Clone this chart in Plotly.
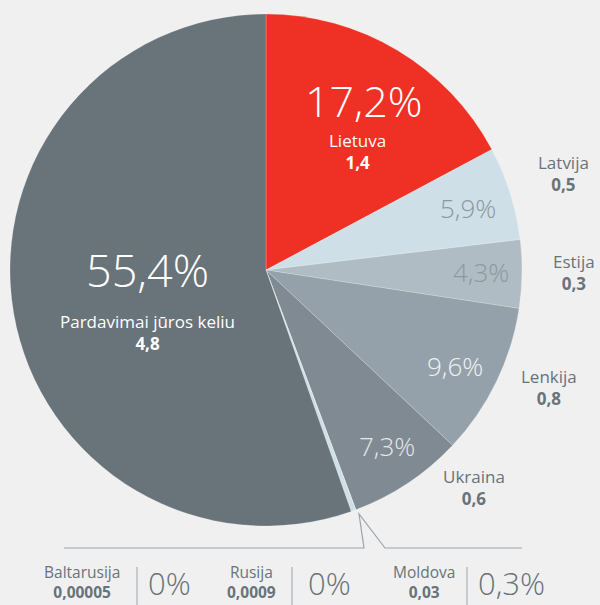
import plotly.graph_objects as go

# ---- data ----
labels = ["Lietuva", "Latvija", "Estija", "Lenkija", "Ukraina",
          "Baltarusija", "Rusija", "Moldova", "Pardavimai jūros keliu"]
shares = [17.2, 5.9, 4.3, 9.6, 7.3, 0.0, 0.0, 0.3, 55.4]
share_text = ["17,2%", "5,9%", "4,3%", "9,6%", "7,3%", "0%", "0%", "0,3%", "55,4%"]
amount_text = ["1,4", "0,5", "0,3", "0,8", "0,6", "0,00005", "0,0009", "0,03", "4,8"]

colors = ["#ee3124", "#cfdfe8", "#b0bcc4", "#95a1aa", "#7f8a92",
          "#cfdfe8", "#cfdfe8", "#cfdfe8", "#68737a"]

W, H = 600, 605
BG = "#f0f0f0"
GRAY = "#68737a"
FONT = "Open Sans"


def px(x):
    return x / W


def py(y):
    return 1 - y / H


# pie geometry in pixels
cx, cy, r = 266, 270, 256

fig = go.Figure(go.Pie(
    labels=labels, values=shares, sort=False, direction="clockwise",
    rotation=0, textinfo="none", hoverinfo="label+percent",
    marker=dict(colors=colors, line=dict(width=0.6, color="rgba(255,255,255,0.35)")),
    domain=dict(x=[px(cx - r), px(cx + r)], y=[py(cy + r), py(cy - r)]),
    showlegend=False,
))

ann = []


def add(x, y, text, size, color, weight=400, pad=1):
    ann.append(dict(x=px(x), y=py(y), xref="paper", yref="paper", text=text,
                    showarrow=False, xanchor="center", yanchor="middle", borderpad=pad,
                    font=dict(family=FONT, size=size, color=color, weight=weight)))


def pair(x, y, i, size, color, pad=1):
    add(x, y, labels[i] + "<br><b>" + amount_text[i] + "</b>", size, color, pad=pad)


LBL = 17
# in-slice big percentages
add(364, 100, share_text[0], 43, "white", 300)
pair(357, 152, 0, LBL, "white")
add(468, 208, share_text[1], 26, "#8d989f", 300)
add(481, 272, share_text[2], 26, "#8d989f", 300)
add(455, 366, share_text[3], 26, "#eef1f3", 300)
add(387, 446, share_text[4], 26, "#e3e7ea", 300)
add(147, 269, share_text[8], 45, "white", 300)
pair(147, 332, 8, LBL, "white")

# outside labels (right)
for (x, y), i in zip([(563, 174), (574, 272), (549, 388), (474, 487)], [1, 2, 3, 4]):
    pair(x, y, i, LBL, GRAY)

# bottom labels
for (x, px_), i in zip([(82, 169), (251, 329), (424, 511)], [5, 6, 7]):
    pair(x, 582, i, 15.5, GRAY, pad=0)
    add(px_, 583, share_text[i], 31, GRAY, 300, pad=0)

shapes = []
LC = "#9aa4ab"
# separators
for sx in [137, 292, 467]:
    shapes.append(dict(type="line", xref="paper", yref="paper",
                       x0=px(sx), x1=px(sx), y0=py(567), y1=py(606),
                       line=dict(color=LC, width=1)))
# leader lines
shapes.append(dict(type="path", xref="paper", yref="paper",
                   path=f"M {px(64)} {py(548)} L {px(364)} {py(548)} L {px(359)} {py(514)} "
                        f"L {px(385)} {py(548)} L {px(522)} {py(548)}",
                   line=dict(color=LC, width=1.2)))

fig.update_layout(
    width=W, height=H, margin=dict(l=0, r=0, t=0, b=0),
    paper_bgcolor=BG, plot_bgcolor=BG,
    annotations=ann, shapes=shapes,
)

fig.write_html("out.html", config={"displayModeBar": False},
               post_script="document.body.style.margin='0';document.body.style.background='#f0f0f0';")
